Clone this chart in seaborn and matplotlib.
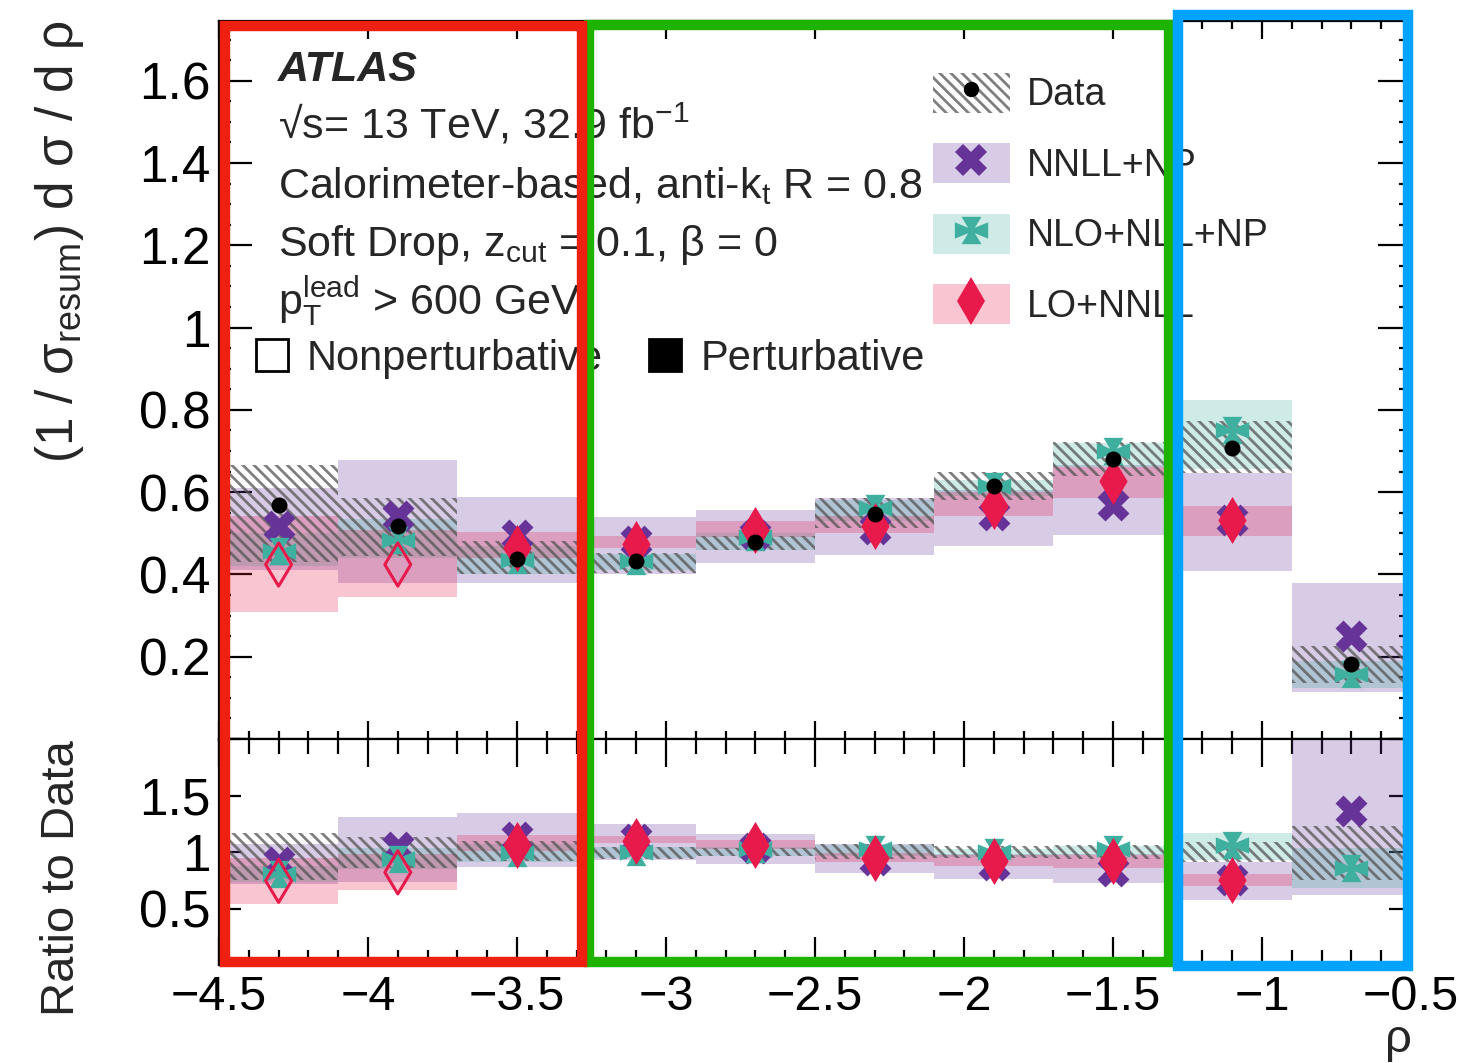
import numpy as np
import pandas as pd
import matplotlib
matplotlib.use("Agg")
import matplotlib.pyplot as plt
import seaborn as sns
from matplotlib.path import Path
from matplotlib.patches import Patch, Rectangle
from matplotlib.lines import Line2D
from matplotlib.legend_handler import HandlerTuple
from matplotlib.ticker import MultipleLocator, FuncFormatter

# ---------------- data ----------------
bin_edges = [-4.5, -4.1, -3.7, -3.3, -2.9, -2.5, -2.1, -1.7, -1.3, -0.9, -0.5]
nonperturbative_bins = [True, True, False, False, False, False, False, False, False, False]

data    = [0.569, 0.517, 0.438, 0.432, 0.478, 0.548, 0.616, 0.681, 0.707, 0.183]
data_hi = [0.665, 0.586, 0.480, 0.453, 0.493, 0.586, 0.650, 0.723, 0.772, 0.225]
data_lo = [0.430, 0.444, 0.402, 0.404, 0.460, 0.514, 0.582, 0.638, 0.646, 0.137]

nnll    = [0.518, 0.541, 0.497, 0.480, 0.497, 0.510, 0.545, 0.569, 0.533, 0.250]
nnll_hi = [0.610, 0.677, 0.589, 0.539, 0.556, 0.586, 0.606, 0.667, 0.646, 0.379]
nnll_lo = [0.410, 0.380, 0.378, 0.402, 0.428, 0.446, 0.470, 0.497, 0.408, 0.114]

nlo    = [0.456, 0.484, 0.436, 0.432, 0.490, 0.562, 0.615, 0.700, 0.752, 0.157]
nlo_hi = [0.500, 0.535, 0.470, 0.450, 0.500, 0.580, 0.630, 0.720, 0.824, 0.190]
nlo_lo = [0.420, 0.440, 0.400, 0.410, 0.460, 0.530, 0.590, 0.660, 0.655, 0.125]

lo    = [0.424, 0.424, 0.465, 0.475, 0.509, 0.517, 0.567, 0.626, 0.533, np.nan]
lo_hi = [0.541, 0.509, 0.504, 0.493, 0.529, 0.541, 0.600, 0.662, 0.567, np.nan]
lo_lo = [0.308, 0.344, 0.440, 0.465, 0.490, 0.501, 0.541, 0.585, 0.494, np.nan]

labels = ["Data", "NNLL+NP", "NLO+NLL+NP", "LO+NNLL"]

# ---------------- style ----------------
sns.set_theme(style="ticks")
plt.rcParams["font.family"] = ["Liberation Sans", "DejaVu Sans"]
plt.rcParams["mathtext.fontset"] = "custom"
plt.rcParams["mathtext.rm"] = "Liberation Sans"
plt.rcParams["mathtext.it"] = "Liberation Sans:italic"
plt.rcParams["mathtext.bf"] = "Liberation Sans:bold"
plt.rcParams["mathtext.sf"] = "Liberation Sans"
plt.rcParams["hatch.linewidth"] = 2.0
plt.rcParams["axes.unicode_minus"] = True

PURPLE = "#663399"
TEAL = "#3FB0A0"
RED = "#E8194B"
HATCH_COL = (0.33, 0.33, 0.33, 0.75)
HATCH = "\\\\\\"
BAND_ALPHA = 0.25

# flared-cross marker for NLO+NLL+NP
_v = [(-0.2, 0.2), (-0.6, 1), (0.6, 1), (0.2, 0.2), (1, 0.6), (1, -0.6),
      (0.2, -0.2), (0.6, -1), (-0.6, -1), (-0.2, -0.2), (-1, -0.6), (-1, 0.6), (-0.2, 0.2)]
_v = [(x, 0.82 * y) for x, y in _v]
STAR = Path(_v, [Path.MOVETO] + [Path.LINETO] * (len(_v) - 2) + [Path.CLOSEPOLY])

edges = np.array(bin_edges)
centers = 0.5 * (edges[:-1] + edges[1:])
widths = np.diff(edges)
d = np.array(data)
npb = np.array(nonperturbative_bins)

W, H = 1459, 1063
fig = plt.figure(figsize=(W / 100, H / 100), dpi=100)
L, R = 219, 1411
ax = fig.add_axes([L / W, 1 - 739 / H, (R - L) / W, (739 - 21) / H])
axr = fig.add_axes([L / W, 1 - 965 / H, (R - L) / W, (965 - 739) / H], sharex=ax)


def draw(a, scale):
    s = np.asarray(scale)
    # uncertainty bands
    for hi, lo_, col in [(nnll_hi, nnll_lo, PURPLE), (nlo_hi, nlo_lo, TEAL), (lo_hi, lo_lo, RED)]:
        hi_ = np.array(hi) / s
        lo2 = np.array(lo_) / s
        m = ~np.isnan(hi_)
        a.bar(centers[m], (hi_ - lo2)[m], bottom=lo2[m], width=widths[m],
              color=col, alpha=BAND_ALPHA, linewidth=0, zorder=1)
    a.bar(centers, (np.array(data_hi) - np.array(data_lo)) / s, bottom=np.array(data_lo) / s,
          width=widths, facecolor="none", edgecolor=HATCH_COL, linewidth=0, hatch=HATCH, zorder=2)
    # markers
    df = pd.DataFrame({"x": centers, "nnll": np.array(nnll) / s, "nlo": np.array(nlo) / s,
                       "lo": np.array(lo) / s, "data": d / s})
    sns.scatterplot(data=df, x="x", y="nnll", marker="X", s=23 ** 2, color=PURPLE,
                    linewidth=0, ax=a, zorder=3, legend=False)
    sns.scatterplot(data=df, x="x", y="nlo", marker=STAR, s=24 ** 2, color=TEAL,
                    linewidth=0, ax=a, zorder=4, legend=False)
    dfp = df[~npb & df["lo"].notna()]
    sns.scatterplot(data=dfp, x="x", y="lo", marker="d", s=24 ** 2, color=RED,
                    linewidth=0, ax=a, zorder=5, legend=False)
    dfn = df[npb]
    a.scatter(dfn["x"], dfn["lo"], marker="d", s=22 ** 2, facecolors="none",
              edgecolors=RED, linewidths=2.2, zorder=5)


draw(ax, np.ones_like(d))
sns.scatterplot(x=centers, y=d, marker="o", s=11.5 ** 2, color="black", linewidth=0,
                ax=ax, zorder=6, legend=False)
draw(axr, d)


def fmt(v, p):
    if abs(v) < 1e-9:
        return ""
    return f"{v:g}".replace("-", "\u2212")


def fmt_r(v, p):
    if abs(v) < 1e-9 or v > 1.99:
        return ""
    return f"{v:g}"


ax.set_xlim(-4.5, -0.5)
ax.set_ylim(0, 1.745)
axr.set_ylim(0, 2.0)
ax.xaxis.set_major_locator(MultipleLocator(0.5))
ax.xaxis.set_minor_locator(MultipleLocator(0.1))
ax.xaxis.set_major_formatter(FuncFormatter(fmt))
ax.yaxis.set_major_locator(MultipleLocator(0.2))
ax.yaxis.set_minor_locator(MultipleLocator(0.05))
ax.yaxis.set_major_formatter(FuncFormatter(fmt))
axr.yaxis.set_major_locator(MultipleLocator(0.5))
axr.yaxis.set_minor_locator(MultipleLocator(0.1))
axr.yaxis.set_major_formatter(FuncFormatter(fmt_r))

for a in (ax, axr):
    a.set_xlabel("")
    a.set_ylabel("")
    a.tick_params(which="both", direction="in", top=True, right=True, width=1.6,
                  labelsize=35, colors="black")
    a.tick_params(axis="y", labelsize=37)
    for sp in a.spines.values():
        sp.set_linewidth(1.6)
        sp.set_color("black")
ax.tick_params(axis="x", which="major", length=12.7)
ax.tick_params(axis="x", which="minor", length=5.5)
ax.tick_params(axis="y", which="major", length=23.5, pad=6)
ax.tick_params(axis="y", which="minor", length=8.4)
ax.tick_params(labelbottom=False)
axr.tick_params(axis="x", which="major", length=20, pad=7)
axr.tick_params(axis="x", which="minor", length=10.8)
axr.tick_params(axis="y", which="major", length=16, pad=6)
axr.tick_params(axis="y", which="minor", length=5.5)

# legends
handles = [
    (Patch(facecolor="white", edgecolor=HATCH_COL, hatch=HATCH, linewidth=0),
     Line2D([], [], marker="o", color="black", ls="none", ms=10)),
    (Patch(facecolor=PURPLE, alpha=BAND_ALPHA, linewidth=0),
     Line2D([], [], marker="X", color=PURPLE, ls="none", ms=23, mew=0)),
    (Patch(facecolor=TEAL, alpha=BAND_ALPHA, linewidth=0),
     Line2D([], [], marker=STAR, color=TEAL, ls="none", ms=24, mew=0)),
    (Patch(facecolor=RED, alpha=BAND_ALPHA, linewidth=0),
     Line2D([], [], marker="d", color=RED, ls="none", ms=24, mew=0)),
]
leg = ax.legend(handles, labels, handler_map={tuple: HandlerTuple(ndivide=1, pad=0)},
                loc="upper left", bbox_to_anchor=((933 - L) / (R - L), (739 - 73) / 718),
                frameon=False, fontsize=27, handlelength=2.05, handleheight=1.25,
                labelspacing=0.8, handletextpad=0.45, borderpad=0, borderaxespad=0)
ax.add_artist(leg)
h2 = [Line2D([], [], marker="s", mfc="none", mec="black", mew=2, ls="none", ms=23),
      Line2D([], [], marker="s", mfc="black", mec="black", mew=2, ls="none", ms=23)]
ax.legend(h2, ["Nonperturbative", "Perturbative"], ncol=2, loc="center left",
          bbox_to_anchor=((255 - L) / (R - L), (739 - 359) / 718), frameon=False,
          fontsize=30, handlelength=0.8, handletextpad=0.45, columnspacing=1.08,
          borderpad=0, borderaxespad=0)

# text block
FS = 31
x0 = 278 / W
fig.text(x0, 1 - 81 / H, "ATLAS", fontsize=FS, fontweight="bold", fontstyle="italic", va="baseline")
fig.text(x0, 1 - 139 / H, r"√s= 13 TeV, 32.9 fb$^{\mathrm{-1}}$", fontsize=FS, va="baseline")
fig.text(x0, 1 - 198 / H, r"Calorimeter-based, anti-k$_{\mathrm{t}}$ R = 0.8", fontsize=FS, va="baseline")
fig.text(x0, 1 - 256 / H, r"Soft Drop, z$_{\mathrm{cut}}$ = 0.1, β = 0", fontsize=FS, va="baseline")
fig.text(x0, 1 - 314 / H, r"p$_{\mathrm{T}}^{\mathrm{lead}}$ > 600 GeV", fontsize=FS, va="baseline")

# axis labels
fig.text(60 / W, 1 - 20 / H, r"(1 / σ$_{\mathrm{resum}}$) d σ / d ρ", fontsize=37,
         rotation=90, ha="center", va="top")
fig.text(62 / W, 1 - 740 / H, "Ratio to Data", fontsize=34, rotation=90, ha="center", va="top")
fig.text(1398 / W, 1 - 1040 / H, "ρ", fontsize=34, ha="center", va="center")

# highlight boxes (annotation overlay)
def box(x1, y1, x2, y2, col):
    fig.add_artist(Rectangle((x1 / W, 1 - y2 / H), (x2 - x1) / W, (y2 - y1) / H,
                             transform=fig.transFigure, fill=False, edgecolor=col,
                             linewidth=7.5, joinstyle="miter", zorder=20))

box(589, 25, 1169, 962, "#1EB300")
box(224.5, 25.5, 581.7, 961.5, "#EE2011")
box(1177.7, 15.4, 1408, 966, "#00A3FF")

fig.savefig("out.png", dpi=100)
